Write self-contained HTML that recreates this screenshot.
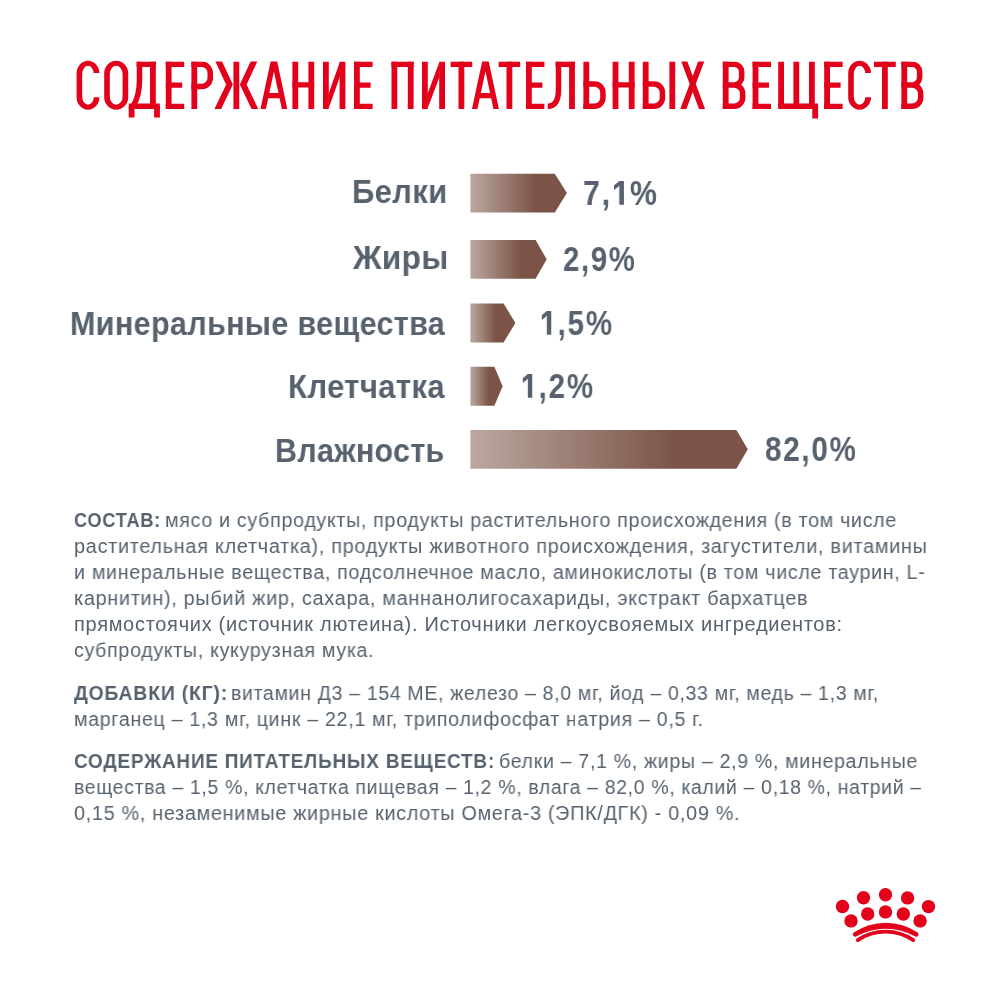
<!DOCTYPE html>
<html lang="ru"><head><meta charset="utf-8"><title>Содержание питательных веществ</title>
<style>*{margin:0;padding:0;box-sizing:border-box}
html,body{width:1000px;height:1000px;background:#fff;overflow:hidden}
body{position:relative;font-family:"Liberation Sans",sans-serif;color:#57626E}
svg{position:absolute;left:0;top:0;display:block}
.t{position:absolute;white-space:nowrap;transform-origin:0 0;line-height:1;will-change:transform}
.one{display:inline-block;width:11.2px;height:23.7px;margin:0 7px 0 2px;position:static;vertical-align:baseline;fill:#57626E}
.lab{font-weight:bold;font-size:33.6px;letter-spacing:0.4px}
.val{font-weight:bold;font-size:34.2px;letter-spacing:2px}
.body{font-size:20px;letter-spacing:0.7px}
.b{font-weight:bold;letter-spacing:0.9px;font-size:21px}
.h{font-size:0;letter-spacing:0}
h1.sr{position:absolute;left:76px;top:60px;width:1px;height:1px;overflow:hidden;clip:rect(0 0 0 0);font-size:1px;color:transparent}
</style></head><body>
<h1 class="sr">СОДЕРЖАНИЕ ПИТАТЕЛЬНЫХ ВЕЩЕСТВ</h1>
<svg class="title" width="1000" height="140" viewBox="0 0 1000 140" role="img" aria-label="СОДЕРЖАНИЕ ПИТАТЕЛЬНЫХ ВЕЩЕСТВ">
<defs><clipPath id="cap"><rect x="0" y="61.6" width="1000" height="47.4"/></clipPath><clipPath id="cc0"><rect x="75.60" y="50" width="12.40" height="80"/><rect x="87.50" y="50" width="13.40" height="22.90"/><rect x="87.50" y="97.3" width="13.40" height="30"/></clipPath><clipPath id="cc1"><rect x="847.20" y="50" width="12.40" height="80"/><rect x="859.10" y="50" width="13.40" height="22.90"/><rect x="859.10" y="97.3" width="13.40" height="30"/></clipPath></defs>
<g fill="none" stroke="#E2001A" stroke-linejoin="miter" stroke-miterlimit="10">
<g clip-path="url(#cap)">
<path stroke-width="5.8" d="M152.90,61.60V106.35M168.70,61.60V109.00M194.30,61.60V109.00M236.35,61.60V109.00M295.30,61.60V109.00M311.30,61.60V109.00M325.90,61.60V109.00M342.50,61.60V109.00M356.90,61.60V109.00M394.40,61.60V109.00M410.70,61.60V109.00M424.90,61.60V109.00M442.10,61.60V109.00M461.40,61.60V109.00M509.40,61.60V109.00M528.90,61.60V109.00M572.00,61.60V109.00M586.30,61.60V109.00M615.50,61.60V109.00M631.70,61.60V109.00M645.70,61.60V109.00M672.30,61.60V109.00M725.70,61.60V109.00M755.50,61.60V109.00M781.10,61.60V106.35M796.30,61.60V106.35M811.90,61.60V106.35M827.10,61.60V109.00M884.90,61.60V109.00M904.30,61.60V109.00"/>
<path stroke-width="5.3" d="M136.60,64.25H155.80M128.80,106.25H159.80M165.80,64.25H184.20M165.80,85.20H182.20M165.80,106.35H184.20M266.20,95.60H281.60M292.40,84.90H314.20M354.00,64.25H372.60M354.00,85.20H370.60M354.00,106.35H372.60M391.50,64.25H413.60M450.60,64.25H472.20M477.70,95.60H493.20M498.60,64.25H520.20M526.00,64.25H544.40M526.00,85.20H542.40M526.00,106.35H544.40M555.60,64.25H574.90M612.60,84.90H634.60M752.60,64.25H771.00M752.60,85.20H769.00M752.60,106.35H771.00M778.20,106.25H818.00M824.20,64.25H842.60M824.20,85.20H840.60M824.20,106.35H842.60M874.00,64.25H895.80"/>
<path stroke-width="5.3" d="M261.92,115.00L274.58,55.60M285.88,115.00L273.22,55.60M473.42,115.00L486.13,55.60M497.48,115.00L484.77,55.60"/>
<path stroke-width="6.05" d="M216.01,55.60L229.50,84.60L214.92,115.00M256.69,55.60L243.20,84.60L257.78,115.00"/>
<path stroke-width="5.7" d="M682.11,55.60L704.29,115.00M703.40,55.60L681.10,115.00"/>
<path stroke-width="5.5" d="M139.50,61.60V80.00Q139.50,96.00 133.00,106.35M191.40,64.35H201.75A8.50,8.50 0 0 1 210.25,72.85V77.95A8.50,8.50 0 0 1 201.75,86.45H191.40M558.50,61.60V89.50Q558.50,106.25 547.80,106.25M583.40,84.05H594.45A8.50,8.50 0 0 1 602.95,92.55V97.75A8.50,8.50 0 0 1 594.45,106.25H583.40M642.80,84.05H653.95A8.50,8.50 0 0 1 662.45,92.55V97.75A8.50,8.50 0 0 1 653.95,106.25H642.80M722.80,64.35H734.15A7.50,7.50 0 0 1 741.65,71.85V77.50A7.50,7.50 0 0 1 734.15,85.00H722.80M722.80,85.00H734.15A8.50,8.50 0 0 1 742.65,93.50V97.75A8.50,8.50 0 0 1 734.15,106.25H722.80M901.40,64.35H912.15A7.50,7.50 0 0 1 919.65,71.85V77.50A7.50,7.50 0 0 1 912.15,85.00H901.40M901.40,85.00H912.15A8.50,8.50 0 0 1 920.65,93.50V97.75A8.50,8.50 0 0 1 912.15,106.25H901.40"/>
<path stroke="none" fill="#E2001A" d="M328.40,109.00V94.20L340.00,61.60V76.40ZM427.40,109.00V94.20L439.60,61.60V76.40Z"/>
</g>
<path stroke-width="5.8" d="M131.60,106.35V117.40M157.00,106.35V117.40M815.20,106.35V118.40"/>
</g>
<path fill="#E2001A" fill-rule="evenodd" d="M104.20,73.35A12.00,12.50 0 0 1 128.20,73.35V97.25A12.00,12.50 0 0 1 104.20,97.25ZM109.80,74.15A6.40,8.30 0 0 1 122.60,74.15V96.45A6.40,8.30 0 0 1 109.80,96.45Z"/>
<path fill="#E2001A" fill-rule="evenodd" clip-path="url(#cc0)" d="M76.60,73.35A11.40,12.50 0 0 1 99.40,73.35V97.25A11.40,12.50 0 0 1 76.60,97.25ZM82.20,74.15A5.80,8.30 0 0 1 93.80,74.15V96.45A5.80,8.30 0 0 1 82.20,96.45Z"/><path fill="#E2001A" fill-rule="evenodd" clip-path="url(#cc1)" d="M848.20,73.35A11.40,12.50 0 0 1 871.00,73.35V97.25A11.40,12.50 0 0 1 848.20,97.25ZM853.80,74.15A5.80,8.30 0 0 1 865.40,74.15V96.45A5.80,8.30 0 0 1 853.80,96.45Z"/>
</svg>
<svg class="bars" width="1000" height="500" viewBox="0 0 1000 500"><defs><linearGradient id="g0" gradientUnits="userSpaceOnUse" x1="470.4" y1="0" x2="554.8" y2="0"><stop offset="0" stop-color="#BBA8A0"/><stop offset="0.77" stop-color="#7B5447"/><stop offset="1" stop-color="#7B5447"/></linearGradient><linearGradient id="g1" gradientUnits="userSpaceOnUse" x1="470.4" y1="0" x2="535.6" y2="0"><stop offset="0" stop-color="#BBA8A0"/><stop offset="0.77" stop-color="#7B5447"/><stop offset="1" stop-color="#7B5447"/></linearGradient><linearGradient id="g2" gradientUnits="userSpaceOnUse" x1="470.4" y1="0" x2="503.6" y2="0"><stop offset="0" stop-color="#BBA8A0"/><stop offset="0.77" stop-color="#7B5447"/><stop offset="1" stop-color="#7B5447"/></linearGradient><linearGradient id="g3" gradientUnits="userSpaceOnUse" x1="470.4" y1="0" x2="494.4" y2="0"><stop offset="0" stop-color="#BBA8A0"/><stop offset="0.77" stop-color="#7B5447"/><stop offset="1" stop-color="#7B5447"/></linearGradient><linearGradient id="g4" gradientUnits="userSpaceOnUse" x1="470.4" y1="0" x2="736.4" y2="0"><stop offset="0" stop-color="#BBA8A0"/><stop offset="0.77" stop-color="#7B5447"/><stop offset="1" stop-color="#7B5447"/></linearGradient></defs><path fill="url(#g0)" d="M470.4,173.7H554.8L566.9,193.10L554.8,212.5H470.4Z"/><path fill="url(#g1)" d="M470.4,240.0H535.6L546.7,259.35L535.6,278.7H470.4Z"/><path fill="url(#g2)" d="M470.4,303.4H503.6L515.4,322.90L503.6,342.4H470.4Z"/><path fill="url(#g3)" d="M470.4,366.8H494.4L502.6,386.25L494.4,405.7H470.4Z"/><path fill="url(#g4)" d="M470.4,429.9H736.4L747.8,449.30L736.4,468.7H470.4Z"/></svg>
<svg class="crown" width="1000" height="1000" viewBox="0 0 1000 1000"><circle cx="885.5" cy="894.8" r="6.7" fill="#E2001A"/><circle cx="863.5" cy="897.7" r="6.7" fill="#E2001A"/><circle cx="907.6" cy="897.9" r="6.7" fill="#E2001A"/><circle cx="842.5" cy="906.5" r="6.7" fill="#E2001A"/><circle cx="928.5" cy="906.6" r="6.7" fill="#E2001A"/><circle cx="885.5" cy="911.9" r="6.7" fill="#E2001A"/><circle cx="867.7" cy="914" r="6.7" fill="#E2001A"/><circle cx="903.3" cy="914" r="6.7" fill="#E2001A"/><circle cx="851" cy="920.9" r="6.7" fill="#E2001A"/><circle cx="920.1" cy="920.9" r="6.7" fill="#E2001A"/><path d="M853.7,932.6A56.5,56.5 0 0 1 917.7,932.6A2.35,2.35 0 0 1 915.4,936.6A60,60 0 0 0 856,936.6A2.35,2.35 0 0 1 853.7,932.6Z" fill="#E2001A"/><path d="M857.8,940.1A49.9,49.9 0 0 1 913.2,940.1" fill="none" stroke="#E2001A" stroke-width="3.7" stroke-linecap="round"/></svg>
<div class="t lab" id="l0" style="left:351.77px;top:175.00px;transform:scaleX(0.9232)">Белки</div>
<div class="t lab" id="l1" style="left:353.39px;top:241.00px;transform:scaleX(0.9394)">Жиры</div>
<div class="t lab" id="l2" style="left:69.80px;top:307.00px;transform:scaleX(0.9080)">Минеральные вещества</div>
<div class="t lab" id="l3" style="left:287.57px;top:370.00px;transform:scaleX(0.9244)">Клетчатка</div>
<div class="t lab" id="l4" style="left:275.38px;top:434.00px;transform:scaleX(0.9027)">Влажность</div>
<div class="t val" id="v0" style="left:583.41px;top:176.00px;transform:scaleX(0.8888)">7,<span class="h">1</span><svg class="one" viewBox="0 0 9.6 23.7" preserveAspectRatio="none" aria-label="1"><path d="M9.6,0H5L0,4.2V8.9L5,4.9V23.7H9.6Z"/></svg>%</div>
<div class="t val" id="v1" style="left:562.77px;top:242.00px;transform:scaleX(0.8561)">2,9%</div>
<div class="t val" id="v2" style="left:539.52px;top:306.00px;transform:scaleX(0.8675)"><span class="h">1</span><svg class="one" viewBox="0 0 9.6 23.7" preserveAspectRatio="none" aria-label="1"><path d="M9.6,0H5L0,4.2V8.9L5,4.9V23.7H9.6Z"/></svg>,5%</div>
<div class="t val" id="v3" style="left:521.01px;top:369.00px;transform:scaleX(0.8675)"><span class="h">1</span><svg class="one" viewBox="0 0 9.6 23.7" preserveAspectRatio="none" aria-label="1"><path d="M9.6,0H5L0,4.2V8.9L5,4.9V23.7H9.6Z"/></svg>,2%</div>
<div class="t val" id="v4" style="left:764.76px;top:432.00px;transform:scaleX(0.8660)">82,0%</div>
<div class="t body b" id="b0_0" style="left:73.76px;top:509.00px;transform:scaleX(0.8639)">СОСТАВ:</div>
<div class="t body" id="b0_1" style="left:165.22px;top:510.00px;transform:scaleX(0.9830)">мясо и субпродукты, продукты растительного происхождения (в том числе</div>
<div class="t body" id="b1_0" style="left:73.61px;top:536.00px;transform:scaleX(0.9942)">растительная клетчатка), продукты животного происхождения, загустители, витамины</div>
<div class="t body" id="b2_0" style="left:73.62px;top:562.00px;transform:scaleX(0.9829)">и минеральные вещества, подсолнечное масло, аминокислоты (в том числе таурин, L-</div>
<div class="t body" id="b3_0" style="left:73.61px;top:588.00px;transform:scaleX(0.9921)">карнитин), рыбий жир, сахара, маннанолигосахариды, экстракт бархатцев</div>
<div class="t body" id="b4_0" style="left:73.60px;top:614.00px;transform:scaleX(1.0003)">прямостоячих (источник лютеина). Источники легкоусвояемых ингредиентов:</div>
<div class="t body" id="b5_0" style="left:73.62px;top:640.00px;transform:scaleX(0.9808)">субпродукты, кукурузная мука.</div>
<div class="t body b" id="b6_0" style="left:73.62px;top:682.00px;transform:scaleX(0.9220)">ДОБАВКИ (КГ):</div>
<div class="t body" id="b6_1" style="left:231.03px;top:683.00px;transform:scaleX(0.9743)">витамин Д3 – 154 МЕ, железо – 8,0 мг, йод – 0,33 мг, медь – 1,3 мг,</div>
<div class="t body" id="b7_0" style="left:73.62px;top:709.00px;transform:scaleX(0.9813)">марганец – 1,3 мг, цинк – 22,1 мг, триполифосфат натрия – 0,5 г.</div>
<div class="t body b" id="b8_0" style="left:73.72px;top:750.00px;transform:scaleX(0.9000)">СОДЕРЖАНИЕ ПИТАТЕЛЬНЫХ ВЕЩЕСТВ:</div>
<div class="t body" id="b8_1" style="left:499.02px;top:751.00px;transform:scaleX(0.9782)">белки – 7,1 %, жиры – 2,9 %, минеральные</div>
<div class="t body" id="b9_0" style="left:73.64px;top:777.00px;transform:scaleX(0.9704)">вещества – 1,5 %, клетчатка пищевая – 1,2 %, влага – 82,0 %, калий – 0,18 %, натрий –</div>
<div class="t body" id="b10_0" style="left:73.61px;top:803.00px;transform:scaleX(0.9904)">0,15 %, незаменимые жирные кислоты Омега-3 (ЭПК/ДГК) - 0,09 %.</div>
</body></html>
